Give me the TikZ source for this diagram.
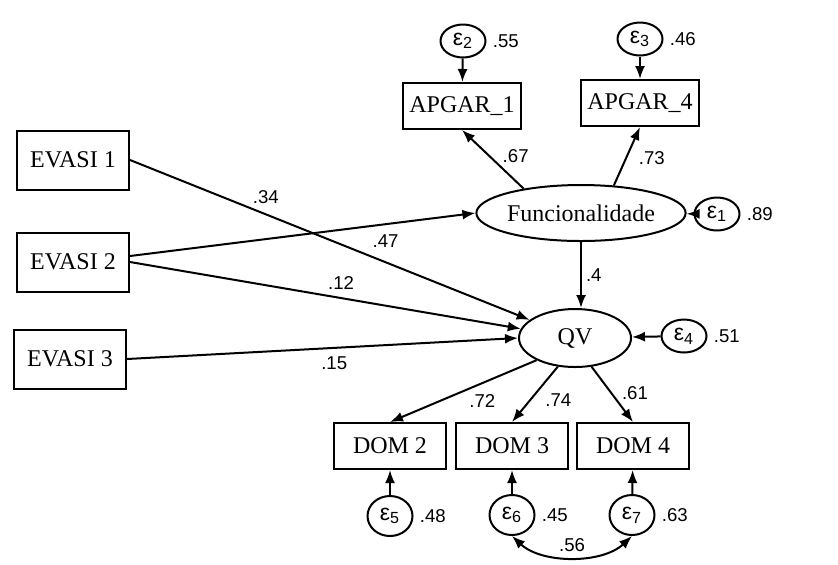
\documentclass[tikz,border=0pt]{standalone}
\usepackage{fontspec}
\setmainfont{Liberation Serif}
\setsansfont{Liberation Sans}
\usepackage{tikz}
\usetikzlibrary{shapes,arrows,positioning,calc,arrows.meta}

\begin{document}
\begin{tikzpicture}[
    x=0.5pt, y=-0.5pt,
    var/.style={draw, rectangle, line width=1pt, minimum width=56pt, minimum height=29.5pt, font=\fontsize{12}{14}\selectfont},
    obs/.style={draw, rectangle, line width=1pt, minimum width=56pt, minimum height=23pt, font=\fontsize{12}{14}\selectfont},
    lat/.style={draw, ellipse, line width=1pt, inner sep=0pt, font=\fontsize{12}{14}\selectfont},
    err/.style={draw, ellipse, line width=1pt, inner sep=0pt, minimum width=22.5pt, font=\sffamily\fontsize{11.5}{12}\selectfont},
    coef/.style={font=\sffamily\fontsize{9.3}{10}\selectfont, inner sep=2pt},
    path/.style={line width=1pt, -{Latex[length=6.5pt,width=5pt]}}
]
    \useasboundingbox (0,0) rectangle (838,564);

    % EVASI items
    \node [var] (ev1) at (73,160) {EVASI 1};
    \node [var] (ev2) at (73,262) {EVASI 2};
    \node [var] (ev3) at (70,359) {EVASI 3};

    % Latent variables
    \node [lat, minimum width=84pt, minimum height=28pt] (func) at (581,213) {Funcionalidade};
    \node [lat, minimum width=56pt, minimum height=29pt] (qv) at (575,338) {QV};

    % Indicators
    \node [obs] (ap1) at (462,106) {APGAR\_1};
    \node [obs] (ap4) at (640,103) {APGAR\_4};
    \foreach \n/\px in {2/390, 3/512, 4/633}
        \node [obs] (dom\n) at (\px,446) {DOM \n};

    % Error terms
    \foreach \i/\px/\py/\h/\v in {1/717/214/16.5/.89, 2/463/41/16.5/.55, 3/640/39/16.5/.46, 4/684/336/16.5/.51, 5/390/516/20/.48, 6/512/515/20/.45, 7/632/515/20/.63} {
        \node [err, minimum height=\h pt] (e\i) at (\px,\py) {ε\textsubscript{\i}};
        \node [coef, anchor=west] (v\i) at ([xshift=1pt]e\i.east) {\v};
    }
    \foreach \e/\t in {e1/func, e2/ap1, e3/ap4, e4/qv, e5/dom2, e6/dom3, e7/dom4}
        \draw [path] (\e) -- (\t);

    % Structural paths
    \draw [path] (ev1.east) -- (qv) node [coef, pos=0.34, above=3pt] {.34};
    \draw [path] ([yshift=3pt]ev2.east) -- (func.west) node [coef, pos=0.74, below=3pt] {.47};
    \draw [path] (ev2.east) -- (qv) node [coef, pos=0.54, above=2pt] {.12};
    \draw [path] (ev3.east) -- (qv.west) node [coef, pos=0.53, below=2pt] {.15};
    \draw [path] (func.south) -- (func.south |- qv.north) node [coef, midway, right=0pt] {.4};

    % Loadings
    \draw [path] (func.157) -- (ap1.south) node [coef, pos=0.55, right=4pt] {.67};
    \draw [path] (func.40) -- (ap4.south) node [coef, pos=0.46, right=4pt] {.73};
    \draw [path] (qv.210) -- (dom2.north) node [coef, pos=0.37, below=3pt] {.72};
    \draw [path] (qv.239) -- (dom3.north) node [coef, pos=0.6, right=5pt] {.74};
    \draw [path] (qv.300) -- (dom4.north) node [coef, pos=0.47, right=3pt] {.61};

    % Error covariance
    \draw [line width=1pt, {Latex[length=6.5pt,width=5pt]}-{Latex[length=6.5pt,width=5pt]}] (e6.south) .. controls +(30,28) and +(-30,28) .. (e7.south) node [coef, pos=0.5, above=0pt] {.56};
\end{tikzpicture}
\end{document}
